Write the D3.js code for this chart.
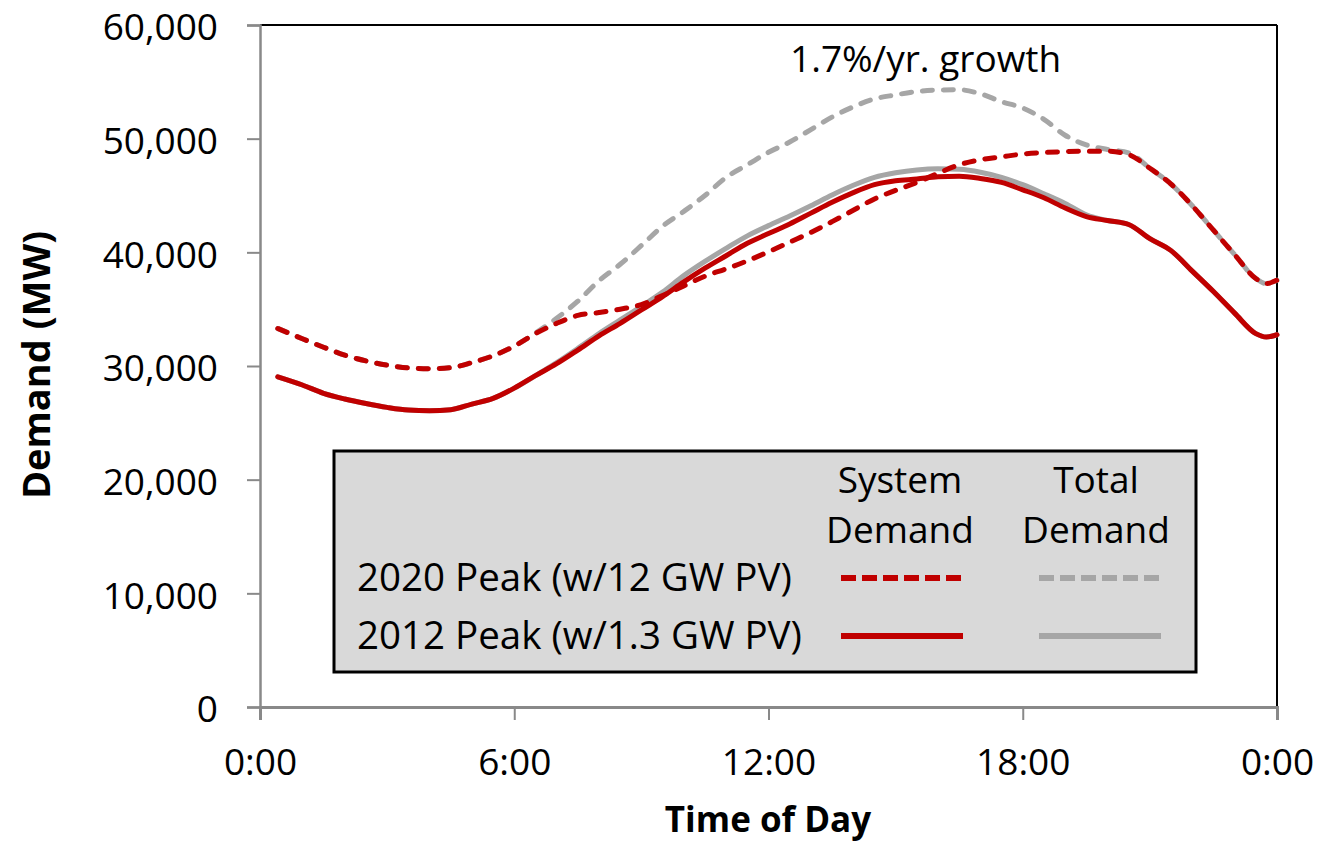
<!DOCTYPE html>
<html>
<head>
<meta charset="utf-8">
<script src="https://cdnjs.cloudflare.com/ajax/libs/d3/7.8.5/d3.min.js"></script>
<style>
  html, body { margin: 0; padding: 0; background: #ffffff; }
  svg { display: block; }
  text { font-family: "Open Sans", "DejaVu Sans", sans-serif; fill: #000; }
</style>
</head>
<body>
<svg id="chart" width="1320" height="843"></svg>
<script>
// ---- data ----
const hours = [0.42, 1, 1.5, 2, 2.5, 3, 3.5, 4, 4.5, 5, 5.5, 6, 6.5, 7, 7.5, 8, 8.5, 9, 9.5, 10,
  10.5, 11, 11.5, 12, 12.5, 13, 13.5, 14, 14.5, 15, 15.5, 16, 16.5, 17, 17.5, 18, 18.5, 19, 19.5, 20,
  20.5, 21, 21.5, 22, 22.5, 23, 23.5, 23.75, 24];

// 2020 Peak (w/12 GW PV) - System Demand
const system2020 = [33300, 32400, 31650, 30950, 30450, 30080, 29830, 29760, 29850, 30300,
  30900, 31750, 32850, 33750, 34450, 34700, 35000, 35400, 36200, 37050,
  37900, 38550, 39250, 40050, 40900, 41750, 42700, 43700, 44700, 45450,
  46150, 46950, 47700, 48150, 48400, 48650, 48780, 48860, 48900, 48900,
  48600, 47400, 46000, 44100, 41950, 39800, 37700, 37250, 37550];

// 2020 Peak (w/12 GW PV) - Total Demand
const total2020 = [33300, 32400, 31650, 30950, 30450, 30080, 29830, 29760, 29850, 30300,
  30900, 31750, 32900, 34200, 35700, 37500, 38950, 40600, 42300, 43600,
  45000, 46600, 47700, 48800, 49700, 50800, 51900, 52800, 53500, 53850,
  54150, 54280, 54300, 53950, 53250, 52700, 51700, 50300, 49450, 49050,
  48750, 47400, 46000, 44100, 41950, 39800, 37700, 37250, 37550];

// 2012 Peak (w/1.3 GW PV) - System Demand
const system2012 = [29050, 28330, 27600, 27100, 26700, 26360, 26120, 26060, 26150, 26650,
  27150, 28050, 29150, 30200, 31400, 32650, 33750, 34930, 36100, 37400,
  38600, 39700, 40800, 41650, 42500, 43450, 44400, 45250, 45950, 46300,
  46450, 46650, 46700, 46500, 46150, 45500, 44800, 43900, 43150, 42800,
  42450, 41200, 40150, 38350, 36550, 34650, 32850, 32550, 32750];

// 2012 Peak (w/1.3 GW PV) - Total Demand
const total2012 = [29050, 28330, 27600, 27100, 26700, 26360, 26120, 26060, 26150, 26650,
  27150, 28050, 29150, 30300, 31550, 32850, 34050, 35250, 36500, 37950,
  39200, 40350, 41450, 42350, 43200, 44100, 45050, 45900, 46600, 47000,
  47250, 47350, 47300, 47050, 46600, 45950, 45150, 44300, 43300, 42800,
  42450, 41200, 40150, 38350, 36550, 34650, 32850, 32550, 32750];

const yTicks = [0, 10000, 20000, 30000, 40000, 50000, 60000];
const xTicks = [0, 6, 12, 18, 24];
const xTickLabels = ["0:00", "6:00", "12:00", "18:00", "0:00"];
const legendRows = ["2020 Peak (w/12 GW PV)", "2012 Peak (w/1.3 GW PV)"];
const legendCols = [["System", "Demand"], ["Total", "Demand"]];
const annotation = "1.7%/yr. growth";

// ---- layout ----
const RED = "#c00000", GRAY = "#a6a6a6", AXIS = "#898989";
const svg = d3.select("#chart");
const L = 260, R = 1277, T = 25, B = 707;

const x = d3.scaleLinear().domain([0, 24]).range([L, R]);
const y = d3.scaleLinear().domain([0, 60000]).range([B, T]);

// frame (top/right black)
svg.append("line").attr("x1", L).attr("x2", R).attr("y1", T).attr("y2", T)
  .attr("stroke", "#000").attr("stroke-width", 2);
svg.append("line").attr("x1", R).attr("x2", R).attr("y1", T).attr("y2", B)
  .attr("stroke", "#000").attr("stroke-width", 2);

// y axis
const yAxis = svg.append("g").attr("transform", `translate(${L},0)`)
  .call(d3.axisLeft(y).tickValues(yTicks).tickSize(13).tickPadding(29)
    .tickFormat(d3.format(",")));
yAxis.select(".domain").attr("stroke", AXIS).attr("stroke-width", 2.5);
yAxis.selectAll(".tick line").attr("stroke", AXIS).attr("stroke-width", 2);
yAxis.selectAll(".tick text").attr("font-size", 37).attr("dy", "0.4em")
  .attr("font-family", "'Open Sans', sans-serif").attr("fill", "#000");

// x axis
const xAxis = svg.append("g").attr("transform", `translate(0,${B})`)
  .call(d3.axisBottom(x).tickValues(xTicks).tickSize(13).tickPadding(29)
    .tickFormat((d, i) => xTickLabels[i]));
xAxis.select(".domain").attr("stroke", AXIS).attr("stroke-width", 3);
xAxis.selectAll(".tick line").attr("stroke", AXIS).attr("stroke-width", 2);
xAxis.selectAll(".tick text").attr("font-size", 37)
  .attr("font-family", "'Open Sans', sans-serif").attr("fill", "#000");

// axis titles
svg.append("text").attr("x", 768).attr("y", 832).attr("text-anchor", "middle")
  .attr("font-size", 35).attr("font-weight", "bold").text("Time of Day");
svg.append("text").attr("transform", "translate(50,365) rotate(-90)")
  .attr("text-anchor", "middle").attr("font-size", 38).attr("font-weight", "bold")
  .text("Demand (MW)");

// lines
const line = d3.line().x((d, i) => x(hours[i])).y(d => y(d)).curve(d3.curveMonotoneX);
const series = [
  { data: total2012, color: GRAY, dash: null },
  { data: total2020, color: GRAY, dash: "10,11" },
  { data: system2020, color: RED, dash: "10,11" },
  { data: system2012, color: RED, dash: null }
];
svg.append("g").selectAll("path").data(series).join("path")
  .attr("d", s => line(s.data))
  .attr("fill", "none")
  .attr("stroke", s => s.color)
  .attr("stroke-width", 5)
  .attr("stroke-linecap", "round")
  .attr("stroke-linejoin", "round")
  .attr("stroke-dasharray", s => s.dash);

// annotation
svg.append("text").attr("x", 790).attr("y", 72).attr("font-size", 37).text(annotation);

// legend
const lg = svg.append("g");
lg.append("rect").attr("x", 334).attr("y", 451).attr("width", 862).attr("height", 221)
  .attr("fill", "#d9d9d9").attr("stroke", "#000").attr("stroke-width", 3);
const colX = [900, 1096];
legendCols.forEach((c, i) => {
  lg.append("text").attr("x", colX[i]).attr("y", 493).attr("text-anchor", "middle")
    .attr("font-size", 37).text(c[0]);
  lg.append("text").attr("x", colX[i]).attr("y", 543).attr("text-anchor", "middle")
    .attr("font-size", 37).text(c[1]);
});
const rowY = [578, 636];
const sampleStyle = [
  [{ color: RED, dash: "15,6" }, { color: GRAY, dash: "15,6" }],
  [{ color: RED, dash: null }, { color: GRAY, dash: null }]
];
legendRows.forEach((r, i) => {
  lg.append("text").attr("x", 357).attr("y", rowY[i] + 13).attr("font-size", 38.5).text(r);
  sampleStyle[i].forEach((s, j) => {
    const cx = [902, 1100][j];
    lg.append("line").attr("x1", cx - 61).attr("x2", cx + 61)
      .attr("y1", rowY[i]).attr("y2", rowY[i])
      .attr("stroke", s.color).attr("stroke-width", 6)
      .attr("stroke-dasharray", s.dash);
  });
});
</script>
</body>
</html>
